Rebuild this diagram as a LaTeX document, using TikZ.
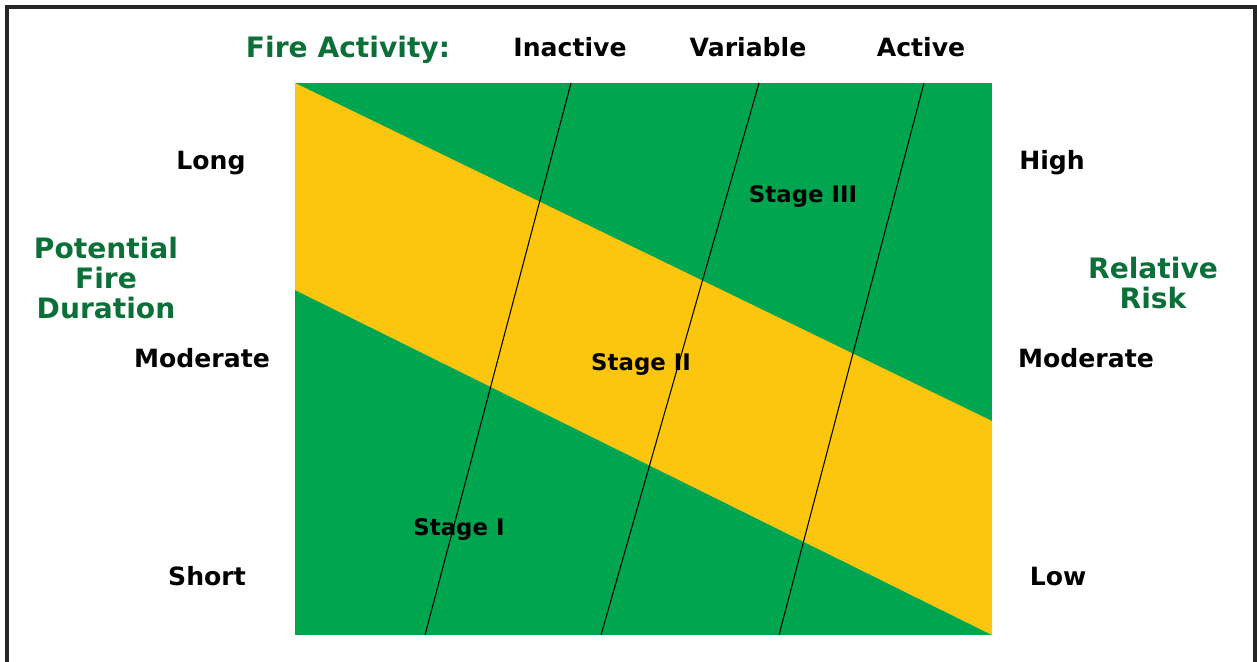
\documentclass[tikz,border=0pt]{standalone}
\usepackage{fontspec}
\setmainfont{DejaVu Sans}
\definecolor{fieldgreen}{RGB}{0,165,80}
\definecolor{bandyellow}{RGB}{252,198,14}
\definecolor{titlegreen}{RGB}{10,112,55}
\tikzset{
  lbl/.style={font=\bfseries\fontsize{14.3}{17}\selectfont, text=black, inner sep=0pt, text height=10.5pt, text depth=0pt},
  ttl/.style={font=\bfseries\fontsize{16}{17}\selectfont, text=titlegreen, inner sep=0pt, align=center},
  stg/.style={font=\bfseries\fontsize{13}{15}\selectfont, text=black, inner sep=0pt, text height=9.4pt, text depth=0pt},
  divline/.style={black, line width=0.6pt},
  frameline/.style={black!85, line width=2.2pt}
}
\begin{document}
\begin{tikzpicture}[x=0.02cm,y=-0.02cm]
\useasboundingbox (0,0) rectangle (1257,662);
% frame
\coordinate (fbl) at (7,662);
\coordinate (ftl) at (7,7);
\coordinate (ftr) at (1255,7);
\coordinate (fbr) at (1255,662);
\draw[frameline] (fbl) -- (ftl) -- (ftr) -- (fbr);
% field
\coordinate (tl) at (295,83);
\coordinate (tr) at (992,83);
\coordinate (br) at (992,635);
\coordinate (bl) at (295,635);
\coordinate (yr) at (992,421);
\coordinate (yl) at (295,290);
\fill[fieldgreen] (tl) -- (tr) -- (br) -- (bl) -- cycle;
\fill[bandyellow] (tl) -- (yr) -- (br) -- (yl) -- cycle;
% dividing lines
\coordinate (a1) at (571,83);  \coordinate (b1) at (425,635);
\coordinate (a2) at (759,83);  \coordinate (b2) at (601,635);
\coordinate (a3) at (924,83);  \coordinate (b3) at (779,635);
\draw[divline] (a1) -- (b1);
\draw[divline] (a2) -- (b2);
\draw[divline] (a3) -- (b3);
% top labels
\node[ttl, text height=11.6pt, text depth=0pt] (fa) at (348,47) {Fire Activity:};
\node[lbl] (inact) at (570,47) {Inactive};
\node[lbl] (var) at (748,47) {Variable};
\node[lbl] (act) at (921,47) {Active};
% left labels
\node[lbl] (long) at (211,160) {Long};
\node[lbl] (modl) at (202,358) {Moderate};
\node[lbl] (short) at (207,576) {Short};
\node[ttl] (pfd) at (106,278) {Potential\\Fire\\Duration};
% right labels
\node[lbl] (high) at (1052,160) {High};
\node[lbl] (modr) at (1086,358) {Moderate};
\node[lbl] (low) at (1058,576) {Low};
\node[ttl] (rr) at (1153,283) {Relative\\Risk};
% stages
\node[stg] (s3) at (803,194) {Stage III};
\node[stg] (s2) at (641,362) {Stage II};
\node[stg] (s1) at (459,527) {Stage I};
\end{tikzpicture}
\end{document}
